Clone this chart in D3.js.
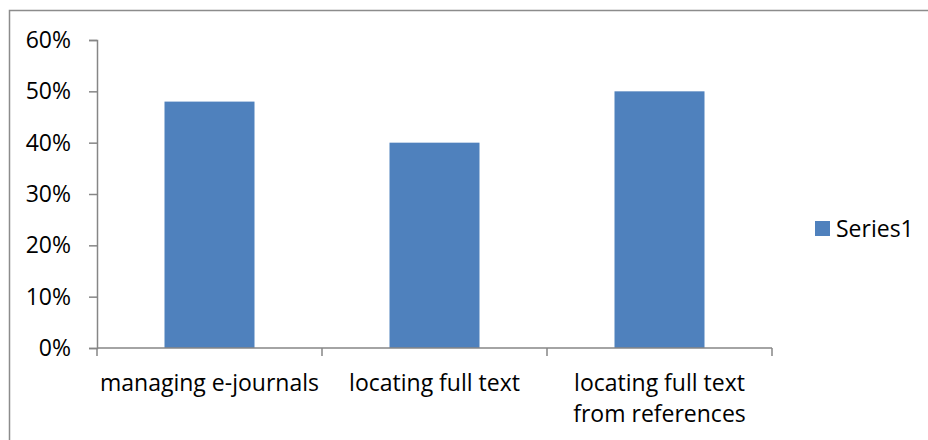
<!DOCTYPE html>
<html>
<head>
<meta charset="utf-8">
<script src="https://cdn.jsdelivr.net/npm/d3@7"></script>
<style>
  html, body { margin: 0; padding: 0; background: #fff; }
  svg { display: block; font-family: "Open Sans", sans-serif; }
</style>
</head>
<body>
<svg id="chart" width="928" height="440"></svg>
<script>
const categories = ["managing e-journals", "locating full text", "locating full text\nfrom references"];
const values = [0.48, 0.40, 0.50];
const yTicks = [0, 0.1, 0.2, 0.3, 0.4, 0.5, 0.6];
const seriesName = "Series1";

const CHART = {
    margin: { top: 40, left: 97 },
    plotWidth: 675,
    plotHeight: 308,
    barColor: "#4f81bd",
    axisColor: "#868686",
    fontSize: 23,
};

const svg = d3.select("#chart");

// outer chart frame
svg.append("rect")
    .attr("x", 9.5).attr("y", 10.5)
    .attr("width", 940).attr("height", 450)
    .attr("fill", "none")
    .attr("stroke", "#8c8c8c")
    .attr("stroke-width", 1.5);

const x = d3.scaleBand()
    .domain(categories)
    .range([0, CHART.plotWidth])
    .paddingInner(0.6)
    .paddingOuter(0.3);

const xTick = d3.scaleBand().domain(categories).range([0, CHART.plotWidth]);

const y = d3.scaleLinear().domain([0, 0.6]).range([CHART.plotHeight, 0]);

const g = svg.append("g")
    .attr("transform", `translate(${CHART.margin.left},${CHART.margin.top})`);

// bars
g.selectAll(".bar")
    .data(values)
    .join("rect")
    .attr("class", "bar")
    .attr("x", (d, i) => x(categories[i]))
    .attr("y", d => y(d))
    .attr("width", x.bandwidth())
    .attr("height", d => y(0) - y(d))
    .attr("fill", CHART.barColor);

// y axis
const yAxis = g.append("g")
    .call(d3.axisLeft(y).tickValues(yTicks).tickFormat(d3.format(".0%")).tickSizeOuter(0).tickSize(8).tickPadding(18));
yAxis.select(".domain").attr("stroke", CHART.axisColor).attr("stroke-width", 1.5);
yAxis.selectAll(".tick line").attr("stroke", CHART.axisColor).attr("stroke-width", 1.5);
yAxis.selectAll(".tick text")
    .attr("fill", "#000")
    .style("font-size", CHART.fontSize + "px")
    .style("font-family", "'Open Sans', sans-serif");

// x axis: line plus boundary ticks between categories
const xAxis = g.append("g").attr("transform", `translate(0,${CHART.plotHeight})`);
xAxis.append("line")
    .attr("x1", 0).attr("x2", CHART.plotWidth)
    .attr("stroke", CHART.axisColor).attr("stroke-width", 1.5);
const bounds = categories.map(c => xTick(c)).concat([CHART.plotWidth]);
xAxis.selectAll(".btick")
    .data(bounds)
    .join("line")
    .attr("class", "btick")
    .attr("x1", d => d).attr("x2", d => d)
    .attr("y1", 0).attr("y2", 8)
    .attr("stroke", CHART.axisColor).attr("stroke-width", 1.5);

// category labels, one tspan per line
xAxis.selectAll(".cat")
    .data(categories)
    .join("text")
    .attr("class", "cat")
    .attr("text-anchor", "middle")
    .attr("fill", "#000")
    .style("font-size", CHART.fontSize + "px")
    .attr("y", 43)
    .each(function (d) {
        const cx = xTick(d) + xTick.bandwidth() / 2;
        d3.select(this).selectAll("tspan")
            .data(d.split("\n"))
            .join("tspan")
            .attr("x", cx)
            .attr("dy", (l, i) => i === 0 ? 0 : 31)
            .text(l => l);
    });

// legend
const legend = svg.append("g").attr("transform", "translate(815,221)");
legend.append("rect").attr("width", 15).attr("height", 15).attr("fill", CHART.barColor);
legend.append("text")
    .attr("x", 21).attr("y", 16)
    .attr("fill", "#000")
    .style("font-size", CHART.fontSize + "px")
    .text(seriesName);
</script>
</body>
</html>
